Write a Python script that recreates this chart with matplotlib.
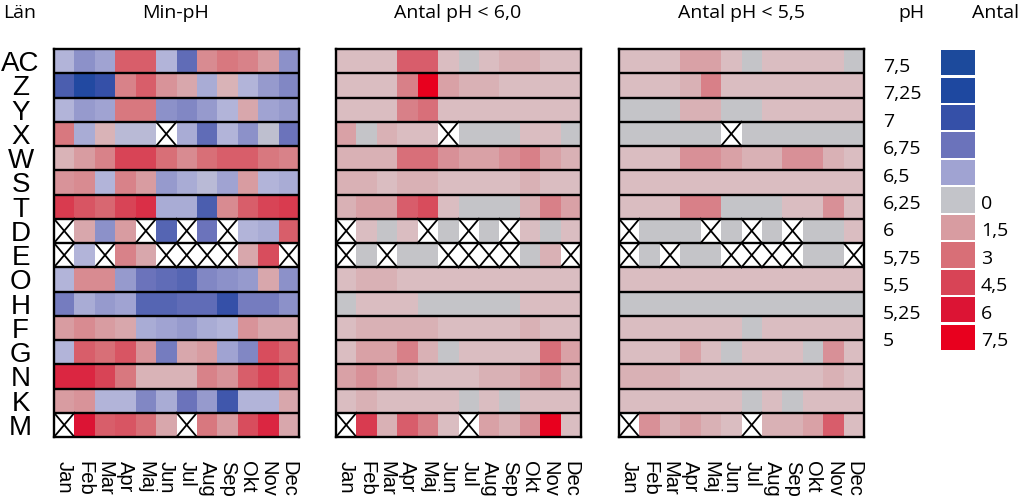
import numpy as np
import matplotlib.pyplot as plt
from matplotlib.colors import LinearSegmentedColormap, Normalize

nan = np.nan

lan = ['AC', 'Z', 'Y', 'X', 'W', 'S', 'T', 'D', 'E', 'O', 'H', 'F', 'G', 'N', 'K', 'M']
manader = ['Jan', 'Feb', 'Mar', 'Apr', 'Maj', 'Jun', 'Jul', 'Aug', 'Sep', 'Okt', 'Nov', 'Dec']

# lägsta pH per län och månad (nan = saknas)
min_ph = np.array([
    [6.4, 6.6, 6.5, 5.65, 5.65, 6.4, 6.8, 5.9, 5.8, 5.85, 6.0, 6.6],
    [6.9, 7.2, 7.0, 5.85, 5.65, 5.95, 6.05, 6.45, 6.1, 6.4, 6.55, 6.65],
    [6.4, 6.55, 6.5, 5.8, 5.8, 6.6, 6.65, 6.55, 6.4, 6.05, 6.5, 6.55],
    [5.8, 6.45, 6.1, 6.35, 6.35, nan, 6.45, 6.8, 6.4, 6.6, 6.3, 6.75],
    [6.1, 6.0, 5.85, 5.5, 5.5, 5.75, 5.9, 5.75, 5.65, 5.65, 5.8, 5.85],
    [5.95, 5.9, 6.4, 5.85, 6.0, 6.55, 6.45, 6.35, 6.5, 6.0, 6.4, 6.45],
    [5.45, 5.6, 5.7, 5.5, 5.4, 6.45, 6.45, 6.9, 5.9, 5.65, 5.5, 5.45],
    [nan, 6.05, 6.6, 6.0, nan, 6.85, nan, 6.75, nan, 6.4, 6.45, 5.65],
    [nan, 6.4, nan, 5.85, 6.05, nan, nan, nan, nan, 6.05, 5.55, nan],
    [6.4, 5.9, 5.9, 6.55, 6.75, 6.8, 6.85, 6.65, 6.6, 6.55, 6.05, 6.6],
    [6.7, 6.45, 6.55, 6.5, 6.85, 6.85, 6.8, 6.8, 7.0, 6.7, 6.7, 6.6],
    [6.0, 5.9, 6.0, 6.05, 6.45, 6.5, 6.55, 6.45, 6.4, 5.95, 6.05, 6.05],
    [6.4, 5.65, 5.75, 5.6, 5.95, 6.7, 6.05, 6.0, 6.5, 6.65, 5.55, 5.7],
    [5.35, 5.35, 5.5, 5.8, 6.1, 6.1, 6.1, 5.85, 5.95, 5.65, 5.5, 5.7],
    [6.0, 5.95, 6.4, 6.4, 6.65, 6.45, 6.75, 6.55, 6.95, 6.4, 6.4, 6.05],
    [nan, 5.25, 5.65, 5.6, 5.75, 6.05, nan, 5.8, 6.0, 5.55, 5.35, 6.05],
])

# antal mätningar med pH < 6,0
antal_60 = np.array([
    [1, 1, 1, 4, 4, 1, 0, 1, 1.5, 1.5, 1, 1],
    [1, 1, 1, 3, 7.5, 2, 1.5, 1.5, 1, 1, 1, 1],
    [1, 1, 1, 3, 3.5, 1, 1, 1, 1, 1, 1, 1],
    [2, 0, 1.5, 1, 1, nan, 0, 0, 0, 1, 1, 0],
    [1.5, 1.5, 1.5, 3.5, 3.5, 2.5, 2, 2, 2.5, 3, 2, 1.5],
    [1.5, 1.5, 1, 1.5, 1.5, 1, 1, 1, 1, 1.5, 1, 1],
    [1.5, 2, 2, 4, 4.5, 1, 0, 0, 0, 1.5, 3, 2],
    [nan, 1, 0, 1, nan, 0, nan, 0, nan, 1, 0, 1],
    [nan, 0, nan, 0, 0, nan, nan, nan, nan, 0, 1.5, nan],
    [1, 1.5, 1.5, 1, 1, 1, 1, 1, 1, 1, 1, 1],
    [0, 1, 1, 1, 0, 0, 0, 0, 0, 1, 1, 1],
    [1, 1.5, 1.5, 1.5, 1.5, 1, 1, 1, 1, 1.5, 1, 1],
    [1, 2, 2, 3, 1.5, 0, 1, 1, 1, 1, 3.5, 2],
    [2, 2.5, 2, 1.5, 1, 1, 1, 1.5, 1.5, 2, 2.5, 1.5],
    [1, 1.5, 1, 1, 1, 1, 0, 1, 0, 1, 1, 1],
    [nan, 5, 1.5, 4, 3, 1, nan, 2, 1.5, 2.5, 7.5, 1],
])

# antal mätningar med pH < 5,5
antal_55 = np.array([
    [1, 1, 1, 2, 2, 1, 0, 1, 1, 1, 1, 0],
    [1, 1, 1, 1.5, 3, 1, 1, 1, 1, 1, 1, 1],
    [0, 0, 0, 1.5, 1.5, 0, 0, 1, 1, 1, 1, 1],
    [0, 0, 0, 0, 0, nan, 0, 0, 0, 0, 0, 0],
    [1, 1, 1, 2.5, 2.5, 2, 1.5, 1.5, 2.5, 2.5, 1.5, 1],
    [1, 1, 1, 1, 1, 1, 1, 1, 1, 1, 1, 1],
    [1, 1, 1, 3, 3, 0, 0, 0, 1, 1, 2.5, 1],
    [nan, 0, 0, 0, nan, 0, nan, 0, nan, 0, 0, 1],
    [nan, 0, nan, 0, 0, nan, nan, nan, nan, 0, 0, nan],
    [1, 1, 1, 1, 1, 1, 1, 1, 1, 1, 1, 1],
    [0, 0, 0, 0, 0, 0, 0, 0, 0, 0, 0, 0],
    [1, 1, 1, 1, 1, 1, 0, 1, 1, 1, 1, 1],
    [1, 1, 1, 2, 1, 0, 1, 1, 1, 0, 2.5, 1],
    [1.5, 1.5, 1.5, 1, 1, 1, 1, 1, 1, 1, 1.5, 1],
    [1, 1, 1, 1, 1, 1, 0, 1, 0, 1, 1, 1],
    [nan, 2.5, 1.5, 2, 1.5, 1, nan, 1.5, 1.5, 2, 4, 1],
])

ph_steg = [7.5, 7.25, 7.0, 6.75, 6.5, 6.25, 6.0, 5.75, 5.5, 5.25, 5.0]
ph_text = ['7,5', '7,25', '7', '6,75', '6,5', '6,25', '6', '5,75', '5,5', '5,25', '5']
antal_text = ['', '', '', '', '', '0', '1,5', '3', '4,5', '6', '7,5']

# färgskalor
ph_ankare = [5.0, 5.25, 5.5, 5.75, 6.0, 6.12, 6.25, 6.38, 6.5, 6.75, 7.0, 7.25, 7.5]
ph_farger = ['#e8001e', '#dc1434', '#d84456', '#d87078', '#d89ca1', '#d9b8bc', '#c4c4c8',
             '#b6b8da', '#a0a3d2', '#6c74bb', '#3550a8', '#1e48a0', '#1c4a9c']
antal_ankare = [0, 0.5, 1, 1.5, 3, 4.5, 6, 7.5]
antal_farger = ['#c4c4c8', '#d2bec2', '#dabdc1', '#d9b1b5', '#d88088', '#d84c5c', '#dc1838', '#e8001e']

ph_cmap = LinearSegmentedColormap.from_list(
    'ph', [((v - 5) / 2.5, c) for v, c in zip(ph_ankare, ph_farger)])
antal_cmap = LinearSegmentedColormap.from_list(
    'antal', [(v / 7.5, c) for v, c in zip(antal_ankare, antal_farger)])
ph_norm = Normalize(5, 7.5)
antal_norm = Normalize(0, 7.5)

W, H = 1024, 499
fig = plt.figure(figsize=(W / 100, H / 100), dpi=100)
plt.rcParams['font.family'] = 'Liberation Sans'


def panel(left, data, cmap, norm, ylabels=False):
    ax = fig.add_axes([left / W, (H - 437) / H, 245 / W, 388 / H])
    ax.pcolormesh(np.ma.masked_invalid(data), cmap=cmap, norm=norm)
    ax.set_xlim(0, 12)
    ax.set_ylim(16, 0)
    for r in range(1, 16):
        ax.axhline(r, color='black', lw=1.7)
    for r, c in np.argwhere(np.isnan(data)):
        ax.plot([c, c + 1], [r, r + 1], color='black', lw=1.3)
        ax.plot([c, c + 1], [r + 1, r], color='black', lw=1.3)
    for s in ax.spines.values():
        s.set_linewidth(1.7)
    ax.set_xticks(np.arange(12) + 0.5)
    ax.set_xticklabels(manader, rotation=-90, fontsize=14.5, va='top', ha='center')
    ax.tick_params(length=0)
    ax.tick_params(axis='x', pad=17)
    if ylabels:
        ax.set_yticks(np.arange(16) + 0.5)
        ax.set_yticklabels(lan, fontsize=20, ha='center')
        ax.tick_params(axis='y', pad=24)
    else:
        ax.set_yticks([])
    return ax


panel(54, min_ph, ph_cmap, ph_norm, ylabels=True)
panel(336, antal_60, antal_cmap, antal_norm)
panel(619, antal_55, antal_cmap, antal_norm)

# teckenförklaring
lax = fig.add_axes([941 / W, (H - 351) / H, 34 / W, 302 / H])
lax.barh(np.arange(len(ph_steg)), 1, height=0.92,
         color=[ph_cmap(ph_norm(v)) for v in ph_steg])
lax.set_ylim(len(ph_steg) - 0.5, -0.5)
lax.set_xlim(0, 1)
lax.axis('off')
for i, (pt, at) in enumerate(zip(ph_text, antal_text)):
    y = (H - 49 - (i + 0.5) * 302 / len(ph_steg) - 4) / H
    fig.text(883 / W, y, pt, fontsize=14, family='Open Sans', ha='left', va='center')
    fig.text(981 / W, y, at, fontsize=14, family='Open Sans', ha='left', va='center')

# rubriker
ty = (H - 13) / H
for x, t in [(20, 'Län'), (176, 'Min-pH'), (458, 'Antal pH < 6,0'),
             (741, 'Antal pH < 5,5'), (911, 'pH'), (996, 'Antal')]:
    fig.text(x / W, ty, t, fontsize=14, family='Open Sans', ha='center', va='center')

fig.savefig('out.png', dpi=100)
